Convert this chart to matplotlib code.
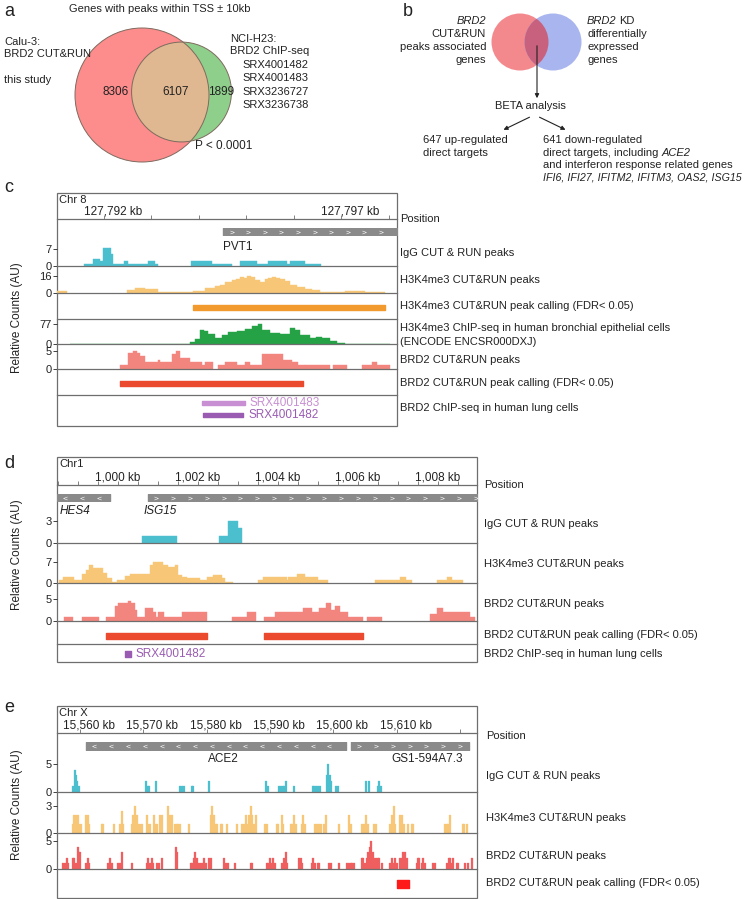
import numpy as np
import matplotlib.pyplot as plt
from matplotlib.patches import Circle, Rectangle
from matplotlib.font_manager import FontProperties

plt.rcParams['font.family'] = ['Liberation Sans', 'DejaVu Sans']

# ---------------- data ----------------
# a: gene overlap counts
a_calu3_only = 8306
a_both = 6107
a_h23_only = 1899
a_h23_runs = ['SRX4001482', 'SRX4001483', 'SRX3236727', 'SRX3236738']
# b: BETA analysis
b_up = 647
b_down = 641
b_ifn_genes = ['IFI6', 'IFI27', 'IFITM2', 'IFITM3', 'OAS2', 'ISG15']

# c: chr8, positions in kb after 127,792 kb ; (start, end, value)
c_anchor = 127792
c_view = (-0.99, 6.17)
c_pvt1 = (2.51, 7.0)
c_igg = [(-0.42, -0.23, 1), (-0.23, -0.08, 3), (-0.08, -0.02, 2), (-0.02, 0.15, 7.5),
         (0.15, 0.19, 5), (0.19, 0.42, 1), (0.42, 0.51, 2), (0.51, 0.93, 1), (0.93, 1.07, 2),
         (1.07, 1.14, 1), (1.83, 2.27, 2), (2.27, 2.69, 1), (2.86, 3.22, 2), (3.22, 3.45, 1),
         (3.45, 3.85, 2), (3.85, 3.92, 1), (3.92, 4.23, 2), (4.23, 4.57, 1)]
c_h3k4 = [(-0.99, -0.78, 2), (0.48, 0.65, 3), (0.65, 0.86, 5), (0.86, 1.14, 4), (1.14, 1.87, 1),
          (1.87, 2.13, 2), (2.13, 2.34, 5), (2.34, 2.45, 7), (2.45, 2.55, 8), (2.55, 2.69, 10),
          (2.69, 2.78, 12), (2.78, 2.86, 13), (2.86, 2.94, 15), (2.94, 3.01, 14), (3.01, 3.1, 16),
          (3.1, 3.18, 15), (3.18, 3.28, 12), (3.28, 3.39, 10), (3.39, 3.46, 13), (3.46, 3.54, 14),
          (3.54, 3.62, 15), (3.62, 3.71, 14), (3.71, 3.82, 13), (3.82, 3.92, 11), (3.92, 4.06, 8),
          (4.06, 4.23, 6), (4.23, 4.38, 4), (4.38, 4.55, 3), (4.55, 5.07, 1), (5.07, 5.49, 2),
          (5.49, 5.92, 1)]
c_h3k4_calls = [(1.87, 5.92)]
c_encode = [(-0.72, 1.81, 1.5), (1.81, 1.92, 6), (1.92, 2.02, 20), (2.02, 2.1, 54), (2.1, 2.19, 50),
            (2.19, 2.34, 40), (2.34, 2.48, 22), (2.48, 2.61, 36), (2.61, 2.8, 45), (2.8, 2.97, 50),
            (2.97, 3.12, 58), (3.12, 3.24, 70), (3.24, 3.33, 77), (3.33, 3.49, 52), (3.49, 3.71, 42),
            (3.71, 3.92, 38), (3.92, 4.02, 60), (4.02, 4.13, 55), (4.13, 4.34, 35), (4.34, 4.46, 24),
            (4.46, 4.59, 28), (4.59, 4.76, 22), (4.76, 4.91, 12), (4.91, 5.07, 4), (5.07, 6.02, 1)]
c_brd2 = [(0.34, 0.51, 1), (0.51, 0.61, 4.4), (0.61, 0.69, 5), (0.69, 0.76, 4.4), (0.76, 0.86, 3.7),
          (0.86, 1.14, 2), (1.14, 1.18, 2.5), (1.18, 1.43, 2), (1.43, 1.52, 4.2), (1.52, 1.6, 5),
          (1.6, 1.81, 3), (1.81, 2.06, 2), (2.06, 2.13, 1), (2.13, 2.29, 2), (2.4, 2.55, 1),
          (2.55, 2.8, 2), (2.8, 2.97, 1), (2.97, 3.07, 2), (3.07, 3.33, 1), (3.33, 3.54, 4.2),
          (3.54, 3.77, 4.2), (3.77, 3.96, 2.6), (3.96, 4.08, 2), (4.08, 4.23, 1), (4.23, 4.76, 1),
          (4.82, 5.12, 1), (5.43, 5.64, 1), (5.64, 5.75, 2), (5.75, 6.02, 1)]
c_brd2_calls = [(0.34, 4.19)]
c_srx4001483 = (2.06, 2.97)
c_srx4001482 = (2.08, 2.93)

# d: chr1, kb after 1,000 kb
d_anchor = 1000
d_view = (-1.525, 8.975)
d_hes4 = (-2.0, -0.2)
d_isg15 = (0.75, 10.0)
d_igg = [(0.59, 1.47, 1), (2.53, 2.76, 1), (2.76, 3.01, 3), (3.01, 3.11, 2)]
d_h3k4 = [(-1.47, -1.37, 1), (-1.37, -1.1, 2), (-1.1, -0.91, 1), (-0.91, -0.8, 3), (-0.8, -0.72, 4.4),
          (-0.72, -0.63, 6), (-0.63, -0.37, 5), (-0.37, -0.27, 3.3), (-0.27, -0.16, 1.7),
          (-0.16, -0.03, 0.5), (-0.02, 0.18, 1), (0.18, 0.3, 2.2), (0.3, 0.8, 3), (0.8, 0.88, 6),
          (0.88, 1.13, 7), (1.13, 1.26, 6), (1.26, 1.43, 5.3), (1.43, 1.51, 6), (1.51, 1.59, 2.8),
          (1.59, 1.72, 2), (1.72, 2.05, 1.7), (2.05, 2.22, 1), (2.22, 2.38, 2), (2.38, 2.59, 2.8),
          (2.59, 2.68, 1.7), (2.68, 2.88, 0.5), (3.51, 3.63, 1), (3.63, 4.22, 2), (4.22, 4.26, 1),
          (4.26, 4.47, 2), (4.47, 4.68, 3), (4.68, 5.01, 2), (5.01, 5.26, 1), (6.43, 7.05, 1),
          (7.05, 7.2, 2), (7.2, 7.34, 1), (7.97, 8.22, 1), (8.22, 8.34, 2), (8.34, 8.63, 1)]
d_brd2 = [(-1.35, -1.12, 1), (-0.91, -0.48, 1), (-0.31, -0.08, 1), (-0.08, 0.01, 3.3), (0.01, 0.26, 4),
          (0.26, 0.32, 4.6), (0.32, 0.43, 4), (0.43, 0.48, 2.5), (0.48, 0.68, 1), (0.68, 0.88, 3),
          (0.88, 0.94, 2), (0.94, 1.01, 1), (1.01, 1.16, 2), (1.16, 1.59, 1), (1.59, 2.22, 2),
          (2.84, 3.23, 1), (3.23, 3.45, 2), (3.65, 3.93, 1), (3.93, 4.63, 2), (4.63, 4.84, 3),
          (4.84, 5.03, 2), (5.03, 5.2, 2.9), (5.2, 5.32, 4), (5.32, 5.43, 2.5), (5.43, 5.55, 3.3),
          (5.55, 5.76, 2), (5.76, 6.13, 1), (6.23, 6.59, 1), (7.8, 7.97, 1.7), (7.97, 8.12, 2.9),
          (8.12, 8.8, 2), (8.8, 8.93, 1)]
d_brd2_calls = [(-0.31, 2.22), (3.65, 6.13)]
d_srx4001482 = (0.18, 0.32)

# e: chrX, kb after 15,560 kb ; (position, value)
e_anchor = 15560
e_view = (-3.63, 62.69)
e_ace2 = (0.95, 42.0)
e_gs1 = (42.79, 61.42)
e_igg = [(-1.05, 1), (-0.84, 4), (-0.63, 3), (-0.42, 2), (-0.21, 1), (10.37, 2), (10.68, 1),
         (10.95, 1), (12.0, 2), (15.84, 1), (16.11, 1), (16.37, 1), (17.63, 1), (17.89, 1),
         (20.42, 2), (29.37, 2), (29.68, 1), (31.42, 1), (31.74, 1), (32.0, 1), (32.26, 1),
         (32.53, 2), (33.79, 1), (36.74, 1), (37.0, 1), (37.26, 1), (37.53, 1), (37.95, 1),
         (38.95, 3), (39.21, 5), (39.47, 3), (39.68, 2), (40.42, 1), (40.74, 1), (45.16, 2),
         (45.68, 2), (47.0, 1), (47.26, 2), (47.53, 1)]
e_h3k4 = [(-1.16, 1), (-0.89, 2), (-0.63, 2), (-0.37, 2), (-0.11, 1), (0.16, 1), (0.95, 2), (1.21, 2),
          (1.47, 1), (3.42, 1), (3.68, 1), (5.42, 1), (6.32, 1), (6.58, 2.5), (6.84, 1), (8.16, 1),
          (8.42, 2), (8.68, 3), (8.95, 2), (9.21, 1), (9.47, 1), (9.74, 1), (10.53, 2), (10.79, 1),
          (11.05, 1), (11.68, 2), (11.95, 1), (12.21, 1), (12.63, 2), (12.89, 2), (13.95, 3),
          (14.21, 2), (14.47, 2), (15.0, 1), (15.26, 1), (15.53, 1), (15.79, 1), (17.26, 1),
          (20.63, 2), (20.89, 3), (21.16, 2), (21.42, 1), (21.68, 1), (22.21, 1), (22.47, 1),
          (23.26, 1), (24.74, 1), (25.63, 1), (25.89, 1), (26.21, 2), (26.47, 1), (26.74, 2),
          (26.95, 3), (27.21, 2), (27.47, 1), (27.79, 2), (29.21, 1), (29.47, 1), (31.05, 1),
          (31.32, 1), (31.84, 2), (32.11, 1), (33.26, 1), (33.53, 1), (33.79, 2), (34.05, 1),
          (35.0, 1), (35.26, 2), (35.53, 1), (37.11, 1), (37.37, 1), (37.79, 1), (38.05, 1),
          (38.53, 1), (38.79, 2), (40.89, 1), (42.47, 2), (42.74, 1), (44.58, 1), (44.84, 1),
          (45.16, 2), (45.42, 1), (46.42, 1), (46.68, 1), (49.0, 1), (49.26, 2), (49.55, 3),
          (49.8, 1), (50.6, 2), (50.85, 2), (51.1, 1), (51.84, 1), (52.37, 1), (52.63, 1),
          (57.63, 1), (57.89, 1), (58.16, 1), (58.47, 2), (60.42, 1), (60.68, 1), (61.05, 1)]
e_brd2 = [(-2.63, 1), (-2.37, 1), (-2.11, 2), (-1.84, 1), (-1.16, 2), (-0.95, 2), (-0.68, 1),
          (-0.37, 4), (-0.16, 3), (0.05, 3), (0.95, 1), (1.21, 2), (1.47, 1), (4.47, 1), (4.74, 2),
          (5.0, 1), (6.05, 1), (6.32, 1), (6.58, 3), (8.16, 1), (10.53, 1), (10.79, 2), (11.05, 1),
          (11.32, 2), (11.58, 1), (12.21, 1), (12.47, 1), (13.0, 2), (15.11, 4), (15.32, 3),
          (17.47, 1), (17.74, 1), (18.0, 2), (18.21, 3), (18.42, 2), (18.68, 1), (18.95, 1),
          (19.32, 1), (19.58, 2), (19.84, 1), (20.37, 2), (20.63, 2), (22.74, 2), (23.0, 1),
          (23.42, 1), (24.47, 1), (26.95, 1), (27.21, 1), (29.47, 1), (29.74, 1), (30.0, 2),
          (30.26, 1), (30.53, 2), (30.79, 1), (31.95, 1), (32.21, 2), (32.47, 3), (32.74, 1),
          (34.58, 2), (34.84, 2), (35.11, 1), (36.58, 1), (36.84, 2), (37.11, 1), (37.53, 1),
          (37.79, 1), (39.32, 1), (39.58, 1), (40.95, 1), (42.21, 1), (42.47, 1), (42.74, 1),
          (43.0, 1), (43.26, 1), (44.47, 2), (44.74, 2), (45.0, 1), (45.26, 2), (45.53, 3),
          (45.79, 4), (46.0, 5), (46.21, 3), (46.47, 2), (46.74, 2), (47.0, 2), (47.26, 2),
          (47.68, 1), (48.95, 1), (49.21, 2), (49.47, 1), (49.74, 2), (50.0, 1), (50.53, 2),
          (50.79, 2), (50.95, 3), (51.16, 2), (51.37, 3), (51.58, 2), (53.16, 1), (53.37, 2),
          (53.58, 2), (53.95, 1), (54.21, 2), (54.42, 1), (55.79, 1), (56.11, 1), (57.95, 1),
          (58.21, 2), (58.42, 2), (58.68, 1), (58.95, 2), (59.47, 1), (59.74, 1), (60.79, 1),
          (61.32, 1), (61.84, 2)]
e_brd2_calls = [(50.05, 51.95)]

# ---------------- styles ----------------
CYAN = '#4cbfcf'
ORANGE_L = '#f7c677'
ORANGE = '#f39a2e'
GREEN = '#25a245'
RED_L = '#f2857e'
RED_E = '#f05f5f'
RED = '#ec4a2f'
PURPLE_L = '#c890d2'
PURPLE = '#9a5cb2'
GENE = '#8a8a8a'
LINE = '#6e6e6e'
TXT = '#222222'
FS = 8

W, H = 746, 899
fig = plt.figure(figsize=(W / 100, H / 100), dpi=100)
canvas = fig.add_axes([0, 0, 1, 1])
canvas.set_xlim(0, W)
canvas.set_ylim(H, 0)
canvas.axis('off')
renderer = fig.canvas.get_renderer()


def px_ax(x0, y0, x1, y1):
    return fig.add_axes([x0 / W, 1 - y1 / H, (x1 - x0) / W, (y1 - y0) / H])


def txt(x, y, s, **kw):
    kw.setdefault('fontsize', FS)
    kw.setdefault('va', 'center')
    kw.setdefault('color', TXT)
    return canvas.text(x, y, s, **kw)


def width_of(s, style='normal', fs=FS):
    fp = FontProperties(family=['Liberation Sans'], style=style, size=fs)
    w, _, _ = renderer.get_text_width_height_descent(s, fp, ismath=False)
    return w


def rich(x, y, parts, fs=FS):
    # parts: list of (text, italic) drawn one after the other
    cur = x
    for s, it in parts:
        style = 'italic' if it else 'normal'
        if s.strip():
            txt(cur, y, s, style=style, fontsize=fs)
            cur += width_of(s, style, fs) - (1.0 if it else 0)
        else:
            cur += width_of('x x', 'normal', fs) - width_of('xx', 'normal', fs)


def row(box, y0, y1, view, line=True):
    ax = px_ax(box[0], y0, box[1], y1)
    ax.patch.set_visible(False)
    ax.set_xlim(view)
    ax.set_ylim(y1, y0)
    ax.set_xticks([])
    ax.set_yticks([])
    for s in ('top', 'left', 'right'):
        ax.spines[s].set_visible(False)
    if line:
        ax.spines['bottom'].set_color(LINE)
        ax.spines['bottom'].set_linewidth(0.9)
    else:
        ax.spines['bottom'].set_visible(False)
    return ax


def scale_track(ax, ytop, tick):
    ax.set_ylim(0, ytop)
    ax.set_yticks([0, tick])
    ax.set_yticklabels(['0', str(tick)])
    ax.tick_params(axis='y', length=3, width=0.6, pad=1, labelsize=FS, colors=TXT)


def signal(box, y0, y1, view, segs, color, ytop, tick):
    ax = row(box, y0, y1, view)
    st = np.array([s[0] for s in segs])
    en = np.array([s[1] for s in segs])
    v = np.array([s[2] for s in segs])
    ax.bar(st, v, width=en - st, align='edge', color=color, edgecolor=color, linewidth=0.3)
    scale_track(ax, ytop, tick)
    return ax


def spikes(box, y0, y1, view, pts, color, ytop, tick):
    ax = row(box, y0, y1, view)
    pos = np.array([p[0] for p in pts])
    v = np.array([p[1] for p in pts])
    ax.bar(pos, v, width=0.3, color=color, edgecolor=color, linewidth=0.2)
    scale_track(ax, ytop, tick)
    return ax


def calls(box, y0, y1, view, spans, color, yc, h, line=True):
    ax = row(box, y0, y1, view, line)
    ax.broken_barh([(s, e - s) for s, e in spans], (yc - h / 2, h), color=color)
    return ax


def ruler(box, y0, y1, view, anchor, step, labelled, shift, chrom):
    ax = row(box, y0, y1, view)
    ax.set_ylim(0, 1)
    ticks = np.arange(np.ceil(view[0] / step) * step, view[1], step)
    ax.set_xticks(ticks)
    ax.set_xticklabels([])
    ax.tick_params(axis='x', direction='in', length=3, width=0.6, color=LINE)
    for t in labelled:
        ax.annotate(f'{int(anchor + t):,} kb', xy=(t, 0.28), xycoords=('data', 'axes fraction'),
                    xytext=(shift, 0), textcoords='offset pixels', ha='center', va='center',
                    fontsize=FS + 0.5, color=TXT)
    txt(box[0] + 2, y0 + 7, chrom)


def gene(ax, span, view, strand, step):
    ax.broken_barh([(span[0], span[1] - span[0])], (0, 1), color=GENE)
    lo = max(span[0], view[0])
    hi = min(span[1], view[1])
    xs = np.arange(lo + step / 2, hi, step)
    ax.plot(xs, np.full(len(xs), 0.5), ls='none', marker='$>$' if strand > 0 else '$<$',
            color='white', ms=3, mew=0)


def gene_row(box, y0, y1, view):
    ax = row(box, y0, y1, view, line=False)
    ax.set_ylim(0, 1)
    return ax


def gene_label(ax, x, name, ha, italic=False, drop=12, dx=0):
    ax.annotate(name, xy=(x, 0), xycoords=('data', 'axes fraction'), xytext=(dx, -drop),
                textcoords='offset pixels', ha=ha, va='center', fontsize=FS + 0.5, color=TXT,
                style='italic' if italic else 'normal')


def frame(box, y0, y1):
    canvas.add_patch(Rectangle((box[0], y0), box[1] - box[0], y1 - y0, fill=False,
                               ec=LINE, lw=0.9, zorder=5))


# ---------------- panel a ----------------
def lens(r1, r2, d):
    d1 = (d * d + r1 * r1 - r2 * r2) / (2 * d)
    d2 = d - d1
    return (r1 * r1 * np.arccos(d1 / r1) - d1 * np.sqrt(r1 * r1 - d1 * d1)
            + r2 * r2 * np.arccos(d2 / r2) - d2 * np.sqrt(r2 * r2 - d2 * d2))


r_red = 67
unit = np.pi * r_red ** 2 / (a_calu3_only + a_both)
r_grn = np.sqrt((a_both + a_h23_only) * unit / np.pi)
lo_d, hi_d = r_red - r_grn + 1e-6, r_red + r_grn - 1e-6
for _ in range(60):
    mid = (lo_d + hi_d) / 2
    if lens(r_red, r_grn, mid) > a_both * unit:
        lo_d = mid
    else:
        hi_d = mid
dist = (lo_d + hi_d) / 2
red_c = (142, 95)
grn_c = (142 + dist, 92)
red_circ = Circle(red_c, r_red, fc='#fd8c8c', ec='none')
canvas.add_patch(red_circ)
canvas.add_patch(Circle(grn_c, r_grn, fc='#8fcf8c', ec='none'))
ov = Circle(grn_c, r_grn, fc='#dfb790', ec='none')
canvas.add_patch(ov)
ov.set_clip_path(red_circ)
canvas.add_patch(Circle(red_c, r_red, fill=False, ec='#7f6a5e', lw=0.7))
canvas.add_patch(Circle(grn_c, r_grn, fill=False, ec='#7f6a5e', lw=0.7))

txt(4, 12, 'a', fontsize=13)
txt(160, 9, 'Genes with peaks within TSS ± 10kb', ha='center')
txt(4, 42, 'Calu-3:')
txt(4, 54, 'BRD2 CUT&RUN')
txt(4, 80, 'this study')
txt(230, 39, 'NCI-H23:')
txt(230, 51, 'BRD2 ChIP-seq')
for i, run in enumerate(a_h23_runs):
    txt(242, 65 + i * 13.3, run)
txt(116, 92, f'{a_calu3_only}', ha='center', fontsize=FS + 0.5)
txt(176, 92, f'{a_both}', ha='center', fontsize=FS + 0.5)
txt(221, 92, f'{a_h23_only}', ha='center', fontsize=FS + 0.5)
txt(195, 146, 'P < 0.0001', fontsize=FS + 0.5)

# ---------------- panel b ----------------
txt(403, 11, 'b', fontsize=13)
b_red = Circle((520, 42), 28.5, fc='#f4898d', ec='none')
canvas.add_patch(b_red)
canvas.add_patch(Circle((553, 42), 28.5, fc='#a9b5ef', ec='none'))
b_ov = Circle((553, 42), 28.5, fc='#c8617e', ec='none')
canvas.add_patch(b_ov)
b_ov.set_clip_path(b_red)
txt(486, 21, 'BRD2', ha='right', style='italic')
for i, s in enumerate(['CUT&RUN', 'peaks associated', 'genes']):
    txt(486, 34 + i * 13, s, ha='right')
rich(587, 21, [('BRD2', True), (' ', False), ('KD', False)])
for i, s in enumerate(['differentially', 'expressed', 'genes']):
    txt(587, 34 + i * 13, s)
arrow = dict(arrowstyle='-|>', color='#222222', lw=0.8, mutation_scale=6)
canvas.annotate('', xy=(537, 101), xytext=(537, 43), arrowprops=arrow)
txt(530, 106, 'BETA analysis', ha='center')
canvas.annotate('', xy=(501, 131), xytext=(532, 116), arrowprops=arrow)
canvas.annotate('', xy=(568, 131), xytext=(537, 116), arrowprops=arrow)
txt(423, 140, f'{b_up} up-regulated')
txt(423, 153, 'direct targets')
txt(543, 140, f'{b_down} down-regulated')
rich(543, 153, [('direct targets, including', False), (' ', False), ('ACE2', True)])
txt(543, 165, 'and interferon response related genes')
txt(543, 177, ', '.join(b_ifn_genes), style='italic', fontsize=7.7)

# ---------------- panel c ----------------
cb = (57, 397)
txt(4, 188, 'c', fontsize=13)
ruler(cb, 193, 219, c_view, c_anchor, 1, [0, 5], 9, 'Chr 8')
ga = gene_row(cb, 228, 235, c_view)
gene(ga, c_pvt1, c_view, 1, 0.35)
gene_label(ga, c_pvt1[0], 'PVT1', 'left', drop=12)
signal(cb, 243, 266, c_view, c_igg, CYAN, 7 * 23 / 17, 7)
signal(cb, 266, 293, c_view, c_h3k4, ORANGE_L, 16 * 27 / 17, 16)
calls(cb, 293, 319, c_view, c_h3k4_calls, ORANGE, 307, 5)
signal(cb, 319, 344, c_view, c_encode, GREEN, 77 * 25 / 20, 77)
signal(cb, 344, 369, c_view, c_brd2, RED_L, 5 * 25 / 18, 5)
calls(cb, 369, 395, c_view, c_brd2_calls, RED, 383, 5)
ax = calls(cb, 395, 426, c_view, [c_srx4001483], PURPLE_L, 403, 4, line=False)
ax.broken_barh([(c_srx4001482[0], c_srx4001482[1] - c_srx4001482[0])], (413, 4), color=PURPLE)
ax.annotate('SRX4001483', xy=(c_srx4001483[1], 403), xytext=(4, 0), textcoords='offset pixels',
            va='center', fontsize=FS + 0.5, color=PURPLE_L)
ax.annotate('SRX4001482', xy=(c_srx4001482[1], 415), xytext=(5, 0), textcoords='offset pixels',
            va='center', fontsize=FS + 0.5, color=PURPLE)
frame(cb, 193, 426)
lx = 400
txt(lx, 219, 'Position')
txt(lx, 253, 'IgG CUT & RUN peaks')
txt(lx, 280, 'H3K4me3 CUT&RUN peaks')
txt(lx, 306, 'H3K4me3 CUT&RUN peak calling (FDR< 0.05)')
txt(lx, 328, 'H3K4me3 ChIP-seq in human bronchial epithelial cells')
txt(lx, 342, '(ENCODE ENCSR000DXJ)')
txt(lx, 360, 'BRD2 CUT&RUN peaks')
txt(lx, 383, 'BRD2 CUT&RUN peak calling (FDR< 0.05)')
txt(lx, 408, 'BRD2 ChIP-seq in human lung cells')
txt(17, 318, 'Relative Counts (AU)', rotation=90, ha='center', fontsize=FS + 0.5)

# ---------------- panel d ----------------
db = (57, 477)
txt(4, 464, 'd', fontsize=13)
ruler(db, 457, 485, d_view, d_anchor, 0.5, [0, 2, 4, 6, 8], 0, 'Chr1')
ga = gene_row(db, 494, 501, d_view)
gene(ga, d_hes4, d_view, -1, 0.42)
gene(ga, d_isg15, d_view, 1, 0.42)
gene_label(ga, d_view[0], 'HES4', 'left', italic=True, drop=10, dx=3)
gene_label(ga, d_isg15[0], 'ISG15', 'left', italic=True, drop=10, dx=-4)
signal(db, 510, 543, d_view, d_igg, CYAN, 3 * 33 / 22, 3)
signal(db, 543, 583, d_view, d_h3k4, ORANGE_L, 7 * 40 / 21, 7)
signal(db, 583, 621, d_view, d_brd2, RED_L, 5 * 38 / 22, 5)
calls(db, 621, 644, d_view, d_brd2_calls, RED, 636, 6)
ax = calls(db, 644, 662, d_view, [d_srx4001482], PURPLE, 654, 6, line=False)
ax.annotate('SRX4001482', xy=(d_srx4001482[1], 654), xytext=(5, 0), textcoords='offset pixels',
            va='center', fontsize=FS + 0.5, color=PURPLE)
frame(db, 457, 662)
lx = 484
txt(lx, 485, 'Position')
txt(lx, 524, 'IgG CUT & RUN peaks')
txt(lx, 564, 'H3K4me3 CUT&RUN peaks')
txt(lx, 604, 'BRD2 CUT&RUN peaks')
txt(lx, 635, 'BRD2 CUT&RUN peak calling (FDR< 0.05)')
txt(lx, 654, 'BRD2 ChIP-seq in human lung cells')
txt(17, 555, 'Relative Counts (AU)', rotation=90, ha='center', fontsize=FS + 0.5)

# ---------------- panel e ----------------
eb = (57, 477)
txt(4, 708, 'e', fontsize=13)
ruler(eb, 706, 733, e_view, e_anchor, 10, [0, 10, 20, 30, 40, 50], 9, 'Chr X')
ga = gene_row(eb, 742, 750, e_view)
gene(ga, e_ace2, e_view, -1, 2.65)
gene(ga, e_gs1, e_view, 1, 2.65)
gene_label(ga, 22.6, 'ACE2', 'center', drop=9)
gene_label(ga, 54.8, 'GS1-594A7.3', 'center', drop=9)
spikes(eb, 760, 792, e_view, e_igg, CYAN, 5 * 32 / 28, 5)
spikes(eb, 792, 833, e_view, e_h3k4, ORANGE_L, 3 * 41 / 27, 3)
spikes(eb, 833, 869, e_view, e_brd2, RED_E, 5 * 36 / 28, 5)
calls(eb, 869, 898, e_view, e_brd2_calls, '#ff1a1a', 884, 8, line=False)
frame(eb, 706, 898)
lx = 486
txt(lx, 736, 'Position')
txt(lx, 776, 'IgG CUT & RUN peaks')
txt(lx, 818, 'H3K4me3 CUT&RUN peaks')
txt(lx, 856, 'BRD2 CUT&RUN peaks')
txt(lx, 883, 'BRD2 CUT&RUN peak calling (FDR< 0.05)')
txt(17, 805, 'Relative Counts (AU)', rotation=90, ha='center', fontsize=FS + 0.5)

fig.savefig('out.png', dpi=100)
